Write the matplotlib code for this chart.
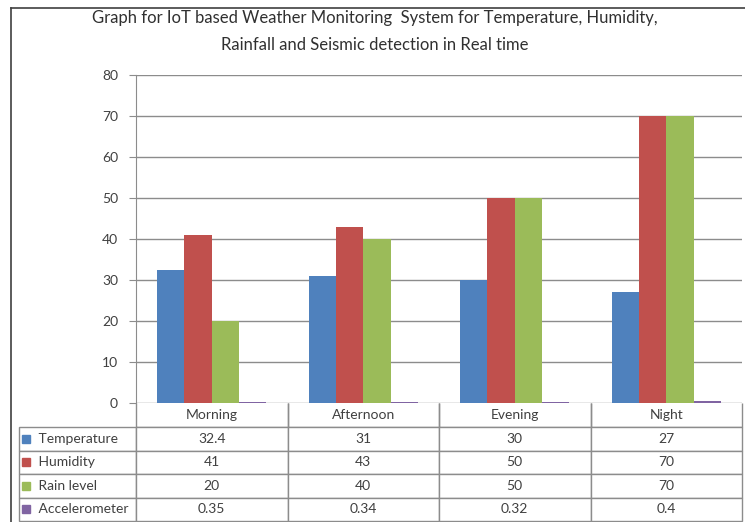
import numpy as np
import matplotlib.pyplot as plt
from matplotlib.lines import Line2D
from matplotlib.patches import Rectangle

times_of_day = ["Morning", "Afternoon", "Evening", "Night"]
temperature = [32.4, 31, 30, 27]
humidity = [41, 43, 50, 70]
rain_level = [20, 40, 50, 70]
accelerometer = [0.35, 0.34, 0.32, 0.4]

series_names = ["Temperature", "Humidity", "Rain level", "Accelerometer"]
series_values = [temperature, humidity, rain_level, accelerometer]
colors = ["#4F81BD", "#C0504D", "#9BBB59", "#8064A2"]

txt_col = "#404040"
grid_col = "#8C8C8C"
plt.rcParams['font.family'] = ['Lato', 'DejaVu Sans']

fig = plt.figure(figsize=(7.45, 5.22), dpi=100)
ax = fig.add_axes([136/745, 119/522, 606/745, 328/522])

x = np.arange(len(times_of_day))
w = 0.18
for i, (vals, c) in enumerate(zip(series_values, colors)):
    ax.bar(x + (i - 1.5) * w, vals, width=w, color=c, zorder=3)

ax.set_xlim(-0.5, 3.5)
ax.set_ylim(0, 80)
ax.set_yticks(range(0, 81, 10))
ax.yaxis.grid(True, color=grid_col, linewidth=1)
ax.set_axisbelow(True)
ax.set_xticks([])
for s in ["top", "right", "bottom"]:
    ax.spines[s].set_visible(False)
ax.spines["left"].set_color(grid_col)
ax.tick_params(axis="y", length=5, color=grid_col, labelcolor=txt_col,
               labelsize=10, pad=8)

# data table under the plot
cell_text = [[""] + times_of_day]
for name, vals in zip(series_names, series_values):
    cell_text.append(["     " + name] + [f"{v:g}" for v in vals])

tbl = ax.table(cellText=cell_text, cellLoc="center",
               bbox=[-117/606, -118/328, 723/606, 118/328])
tbl.auto_set_font_size(False)
tbl.set_fontsize(10)
for (r, c), cell in tbl.get_celld().items():
    cell.set_edgecolor(grid_col)
    cell.set_linewidth(1)
    cell.get_text().set_color(txt_col)
    cell.set_width(117 if c == 0 else 151.5)
    cell.set_height(24 if r == 0 else 23.5)
    if c == 0:
        cell.get_text().set_ha("left")
        cell.PAD = 0.02
    if r == 0 and c == 0:
        cell.visible_edges = ""
    elif r == 0:
        cell.visible_edges = "LRB"

# legend keys inside the row label cells
for i, c in enumerate(colors):
    yc = 522 - (427 + 23.5 * i + 11.75)
    fig.add_artist(Rectangle((22/745, (yc - 4)/522), 8/745, 8/522,
                             transform=fig.transFigure, color=c))

# title
fig.text(375/745, 1 - 18/522,
         "Graph for IoT based Weather Monitoring  System for Temperature, Humidity,",
         ha="center", va="center", fontsize=12, color="#303030")
fig.text(375/745, 1 - 45/522,
         "Rainfall and Seismic detection in Real time",
         ha="center", va="center", fontsize=12, color="#303030")

# outer chart frame
fig.add_artist(Line2D([11/745, 1], [1 - 8/522, 1 - 8/522],
                      transform=fig.transFigure, color="#404040", lw=1.2))
fig.add_artist(Line2D([11/745, 11/745], [0, 1 - 8/522],
                      transform=fig.transFigure, color="#404040", lw=1.2))

fig.savefig("out.png", dpi=100)
